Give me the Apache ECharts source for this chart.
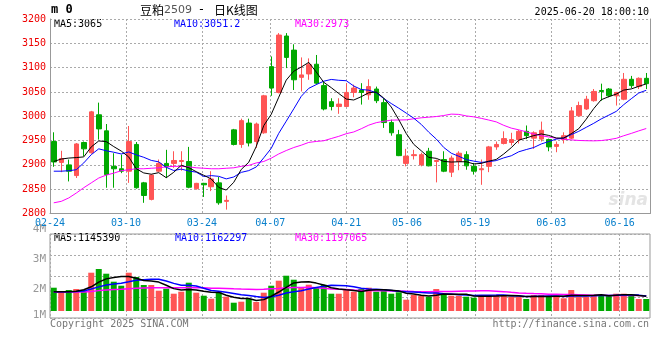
<!DOCTYPE html>
<html><head><meta charset="utf-8">
<script src="https://cdn.jsdelivr.net/npm/echarts@6/dist/echarts.min.js"></script>
<style>html,body{margin:0;padding:0;background:#fff}#c{width:660px;height:360px}</style>
</head><body><div id="c"></div>
<script>
// ---- data ----
const dates = ['02-24','02-25','02-26','02-27','02-28',
 '03-03','03-04','03-05','03-06','03-07','03-10','03-11','03-12','03-13','03-14',
 '03-17','03-18','03-19','03-20','03-21','03-24','03-25','03-26','03-27','03-28','03-31',
 '04-01','04-02','04-03','04-07','04-08','04-09','04-10','04-11','04-14','04-15','04-16','04-17','04-18',
 '04-21','04-22','04-23','04-24','04-25','04-28','04-29','04-30',
 '05-06','05-07','05-08','05-09','05-12','05-13','05-14','05-15','05-16','05-19','05-20','05-21','05-22','05-23',
 '05-26','05-27','05-28','05-29','05-30',
 '06-03','06-04','06-05','06-06','06-09','06-10','06-11','06-12','06-13','06-16','06-17','06-18','06-19','06-20'];
const labelDates = ['02-24','03-10','03-24','04-07','04-21','05-06','05-19','06-03','06-16'];

const opens  = [2948,2905,2900,2878,2946,2925,3003,2970,2897,2892,2887,2942,2863,2829,2887,2903,2903,2907,2907,2851,
                2862,2855,2863,2825,2972,2942,2986,2948,2966,3102,3049,3165,3136,3080,3087,3107,3063,3030,3020,3020,
                3049,3054,3044,3056,3028,2987,2962,2903,2919,2900,2928,2907,2911,2885,2907,2921,2897,2890,2897,2937,
                2944,2946,2952,2969,2955,2953,2952,2938,2952,2955,3001,3015,3032,3053,3056,3042,3035,3076,3061,3078];
const closes = [2906,2913,2887,2943,2933,3009,2974,2880,2892,2887,2948,2853,2837,2879,2903,2896,2909,2909,2854,2862,
                2859,2871,2822,2827,2942,2991,2945,2984,3042,3058,3167,3121,3075,3085,3106,3068,3015,3020,3025,3049,
                3058,3049,3061,3032,2987,2966,2919,2918,2921,2921,2898,2909,2887,2914,2924,2898,2887,2892,2937,2942,
                2954,2952,2969,2960,2966,2971,2937,2942,2960,3011,3022,3035,3051,3051,3042,3049,3076,3063,3078,3067];
const lows   = [2896,2885,2866,2873,2918,2923,2952,2853,2853,2883,2863,2851,2822,2827,2885,2873,2894,2888,2852,2849,
                2834,2846,2818,2808,2940,2935,2938,2935,2964,3042,3047,3099,3054,3051,3075,3065,3012,3012,3005,3019,
                3039,3024,3034,3027,2976,2960,2918,2897,2911,2897,2897,2864,2885,2875,2889,2890,2880,2859,2885,2931,
                2942,2940,2944,2953,2933,2948,2928,2926,2944,2953,2999,3013,3030,3032,3039,3022,3033,3058,3056,3056];
const highs  = [2967,2929,2911,2945,2948,3011,3028,2984,2924,2921,2980,2947,2865,2881,2911,2931,2928,2928,2937,2863,
                2863,2887,2875,2837,2974,2995,2995,2987,3044,3123,3171,3171,3148,3121,3119,3126,3071,3037,3037,3068,
                3065,3068,3076,3061,3037,2993,2972,2933,2931,2925,2935,2911,2928,2919,2928,2928,2904,2911,2939,2948,
                2969,2966,2972,2981,2969,2989,2954,2948,2967,3019,3030,3042,3056,3067,3058,3050,3089,3083,3080,3089];
const volumes = [1806000,1450000,1628000,1705000,1628000,2969000,3256000,2891000,2271000,1961000,
                 2969000,2636000,2016000,2016000,1574000,1729000,1341000,1496000,2194000,1419000,
                 1186000,953000,1450000,1109000,643000,721000,930000,698000,1419000,1961000,
                 2349000,2736000,2426000,1806000,2039000,1806000,2039000,1341000,1341000,1705000,
                 1496000,1705000,1806000,1496000,1705000,1341000,1450000,876000,1240000,1186000,
                 1109000,1705000,1341000,1186000,1186000,1109000,1031000,1186000,1240000,1240000,
                 1186000,1109000,1109000,930000,1240000,1240000,1109000,1186000,984000,1628000,
                 1109000,1109000,1240000,1240000,1186000,1341000,1341000,1186000,930000,930000];
// moving-average values before enough in-window data exists
const ma5Head  = [2907,2912,2914,2915];
const ma10Head = [2887,2887,2888,2890,2904,2921,2933,2929,2926];
const ma30Head = [2822,2825,2832,2842,2853,2863,2873,2879,2883,2888,2890,2892,2892,2893,2894,2896,2897,2897,2896,2894,
                  2893,2892,2892,2893,2894,2897,2899,2904,2907];
const vma5Head  = [1500000,1490000,1500000,1530000];
const vma10Head = [1500000,1490000,1500000,1510000,1550000,1700000,1870000,2010000,2090000];
const vma30Head = [1460000,1460000,1470000,1470000,1470000,1520000,1580000,1630000,1660000,1680000,
                   1730000,1770000,1790000,1800000,1800000,1810000,1800000,1800000,1820000,1810000,
                   1800000,1770000,1770000,1750000,1720000,1700000,1690000,1670000,1690000];
const maLegend  = ['MA5:3065','MA10:3051.2','MA30:2973'];
const volLegend = ['MA5:1145390','MA10:1162297','MA30:1197065'];
const volTickLabels = ['1M','2M','3M','4M'];
const titleParts = ['豆粕','2509','-','日K线图'];
const stamp = '2025-06-20 18:00:10';

// ---- helpers ----
function movingAvg(arr, n, head, digits) {
  return arr.map((_, i) => {
    if (i < n - 1) return head[i];
    let s = 0; for (let k = i - n + 1; k <= i; k++) s += arr[k];
    return +(s / n).toFixed(digits);
  });
}
const ma5 = movingAvg(closes, 5, ma5Head, 1);
const ma10 = movingAvg(closes, 10, ma10Head, 1);
const ma30 = movingAvg(closes, 30, ma30Head, 1);
const vma5 = movingAvg(volumes, 5, vma5Head, 0);
const vma10 = movingAvg(volumes, 10, vma10Head, 0);
const vma30 = movingAvg(volumes, 30, vma30Head, 0);

const RED = '#ff5555', GREEN = '#00a800';
const MONO = '"DejaVu Sans Mono", monospace';
const dotted = {color: '#aaaaaa', type: [2, 2], width: 1};
const isLabel = (i, v) => labelDates.indexOf(v === undefined ? dates[i] : v) >= 0;
const lineS = (data, color, xi, yi, w) => ({type: 'line', data, xAxisIndex: xi, yAxisIndex: yi, symbol: 'none',
  showSymbol: false, lineStyle: {color, width: w}, z: 5, silent: true});

const chart = echarts.init(document.getElementById('c'), null, {renderer: 'canvas'});
chart.setOption({
  animation: false,
  backgroundColor: '#fff',
  grid: [
    {left: 50, top: 19, width: 600, height: 194.5},
    {left: 50, top: 234, width: 600, height: 84, show: true, borderColor: '#999', borderWidth: 1, backgroundColor: 'transparent'},
    {left: 50, top: 234, width: 600, height: 77},
    {left: 50, top: 234, width: 600, height: 90}
  ],
  xAxis: [
    {gridIndex: 0, type: 'category', data: dates, boundaryGap: true, show: false, position: 'top'},
    {gridIndex: 0, type: 'category', data: dates, boundaryGap: false, position: 'bottom',
     axisLine: {onZero: false, lineStyle: {color: '#999'}}, axisTick: {show: false},
     axisLabel: {interval: isLabel, color: '#0a80cc', fontFamily: MONO, fontSize: 10, margin: 5},
     splitLine: {show: true, interval: isLabel, lineStyle: dotted}},
    {gridIndex: 1, type: 'category', data: dates, boundaryGap: false, position: 'bottom',
     axisLine: {show: false}, axisTick: {show: false}, axisLabel: {show: false},
     splitLine: {show: true, interval: isLabel, lineStyle: dotted}},
    {gridIndex: 2, type: 'category', data: dates, boundaryGap: true, show: false},
    {gridIndex: 3, type: 'category', data: dates, show: false}
  ],
  yAxis: [
    {gridIndex: 0, type: 'value', min: 2800, max: 3200, interval: 50, position: 'left',
     axisLine: {show: true, lineStyle: {color: '#999'}}, axisTick: {show: false},
     axisLabel: {color: '#ee0000', fontFamily: MONO, fontSize: 10, margin: 4, padding: [0, 0, 6, 0],
       formatter: v => String(v)},
     splitLine: {show: true, lineStyle: dotted}},
    {gridIndex: 0, type: 'value', position: 'right', min: 0, max: 1,
     axisLine: {show: true, lineStyle: {color: '#999'}}, axisTick: {show: false},
     axisLabel: {show: false}, splitLine: {show: false}},
    {gridIndex: 1, type: 'value', min: 0, max: 4, interval: 1,
     axisLine: {show: false}, axisTick: {show: false}, axisLabel: {show: false},
     splitLine: {show: true, lineStyle: dotted}},
    {gridIndex: 2, type: 'value', min: 0, max: 5970000, show: false},
    {gridIndex: 3, type: 'value', min: 1, max: 4, interval: 1, position: 'left',
     axisLine: {show: false}, axisTick: {show: false}, splitLine: {show: false},
     axisLabel: {margin: 4, verticalAlign: 'bottom', lineHeight: 10,
       formatter: v => (v === 1 ? '{p|' : '{q|') + volTickLabels[v - 1] + '}',
       rich: {
         p: {color: '#999', fontFamily: MONO, fontSize: 11, lineHeight: 10, padding: [0, 0, 7, 0]},
         q: {color: '#999', fontFamily: MONO, fontSize: 11, lineHeight: 10}
       }}}
  ],
  series: [
    {type: 'candlestick', xAxisIndex: 0, yAxisIndex: 0, barWidth: 5, silent: true,
     data: opens.map((o, i) => [o, closes[i], lows[i], highs[i]]),
     itemStyle: {color: RED, color0: GREEN, borderColor: RED, borderColor0: GREEN, borderWidth: 1}},
    lineS(ma30, '#ff00ff', 0, 0, 1),
    lineS(ma10, '#0000ff', 0, 0, 1),
    lineS(ma5, '#000000', 0, 0, 1),
    {type: 'bar', xAxisIndex: 3, yAxisIndex: 3, barWidth: 6, silent: true,
     data: volumes.map((v, i) => ({value: v, itemStyle: {color: closes[i] >= opens[i] ? RED : GREEN}}))},
    lineS(vma30, '#ff00ff', 3, 3, 1.5),
    lineS(vma10, '#0000ff', 3, 3, 1.5),
    lineS(vma5, '#000000', 3, 3, 1.5)
  ],
  graphic: [
    {type: 'text', left: 51, top: 4, style: {text: 'm 0', font: 'bold 12px ' + MONO, fill: '#000'}},
    {type: 'text', x: 140, y: 10, style: {
      text: '{a|' + titleParts[0] + '}{b|' + titleParts[1] + '}{c|' + titleParts[2] + '}{d|' + titleParts[3] + '}',
      verticalAlign: 'middle',
      rich: {a: {font: '12px "Noto Sans CJK SC"', fill: '#000'},
             b: {font: '11px "DejaVu Sans"', fill: '#555', width: 25},
             c: {font: '12px "DejaVu Sans"', fill: '#000', width: 25, align: 'center'},
             d: {font: '12px "Noto Sans CJK SC"', fill: '#000', padding: [0, 0, 0, 0]}}}},
    {type: 'text', x: 649, y: 12, style: {text: stamp, font: '10px ' + MONO, fill: '#000', align: 'right', verticalAlign: 'middle'}},
    {type: 'text', x: 54, y: 24, style: {text: maLegend[0], font: '10px ' + MONO, fill: '#000', verticalAlign: 'middle'}},
    {type: 'text', x: 174, y: 24, style: {text: maLegend[1], font: '10px ' + MONO, fill: '#0000ff', verticalAlign: 'middle'}},
    {type: 'text', x: 295, y: 24, style: {text: maLegend[2], font: '10px ' + MONO, fill: '#ff00ff', verticalAlign: 'middle'}},
    {type: 'text', x: 54, y: 238, style: {text: volLegend[0], font: '10px ' + MONO, fill: '#000', verticalAlign: 'middle'}},
    {type: 'text', x: 175, y: 238, style: {text: volLegend[1], font: '10px ' + MONO, fill: '#0000ff', verticalAlign: 'middle'}},
    {type: 'text', x: 295, y: 238, style: {text: volLegend[2], font: '10px ' + MONO, fill: '#ff00ff', verticalAlign: 'middle'}},
    {type: 'text', x: 50, y: 324, style: {text: 'Copyright 2025 SINA.COM', font: '10px ' + MONO, fill: '#777', verticalAlign: 'middle'}},
    {type: 'text', x: 649, y: 324, style: {text: 'http://finance.sina.com.cn', font: '10px ' + MONO, fill: '#777', align: 'right', verticalAlign: 'middle'}},
    {type: 'text', x: 648, y: 209, z: -1, style: {text: 'sina', font: 'italic bold 17px "DejaVu Sans"', fill: '#e4e4e4', align: 'right', verticalAlign: 'bottom'}}
  ]
});
</script>
</body></html>
